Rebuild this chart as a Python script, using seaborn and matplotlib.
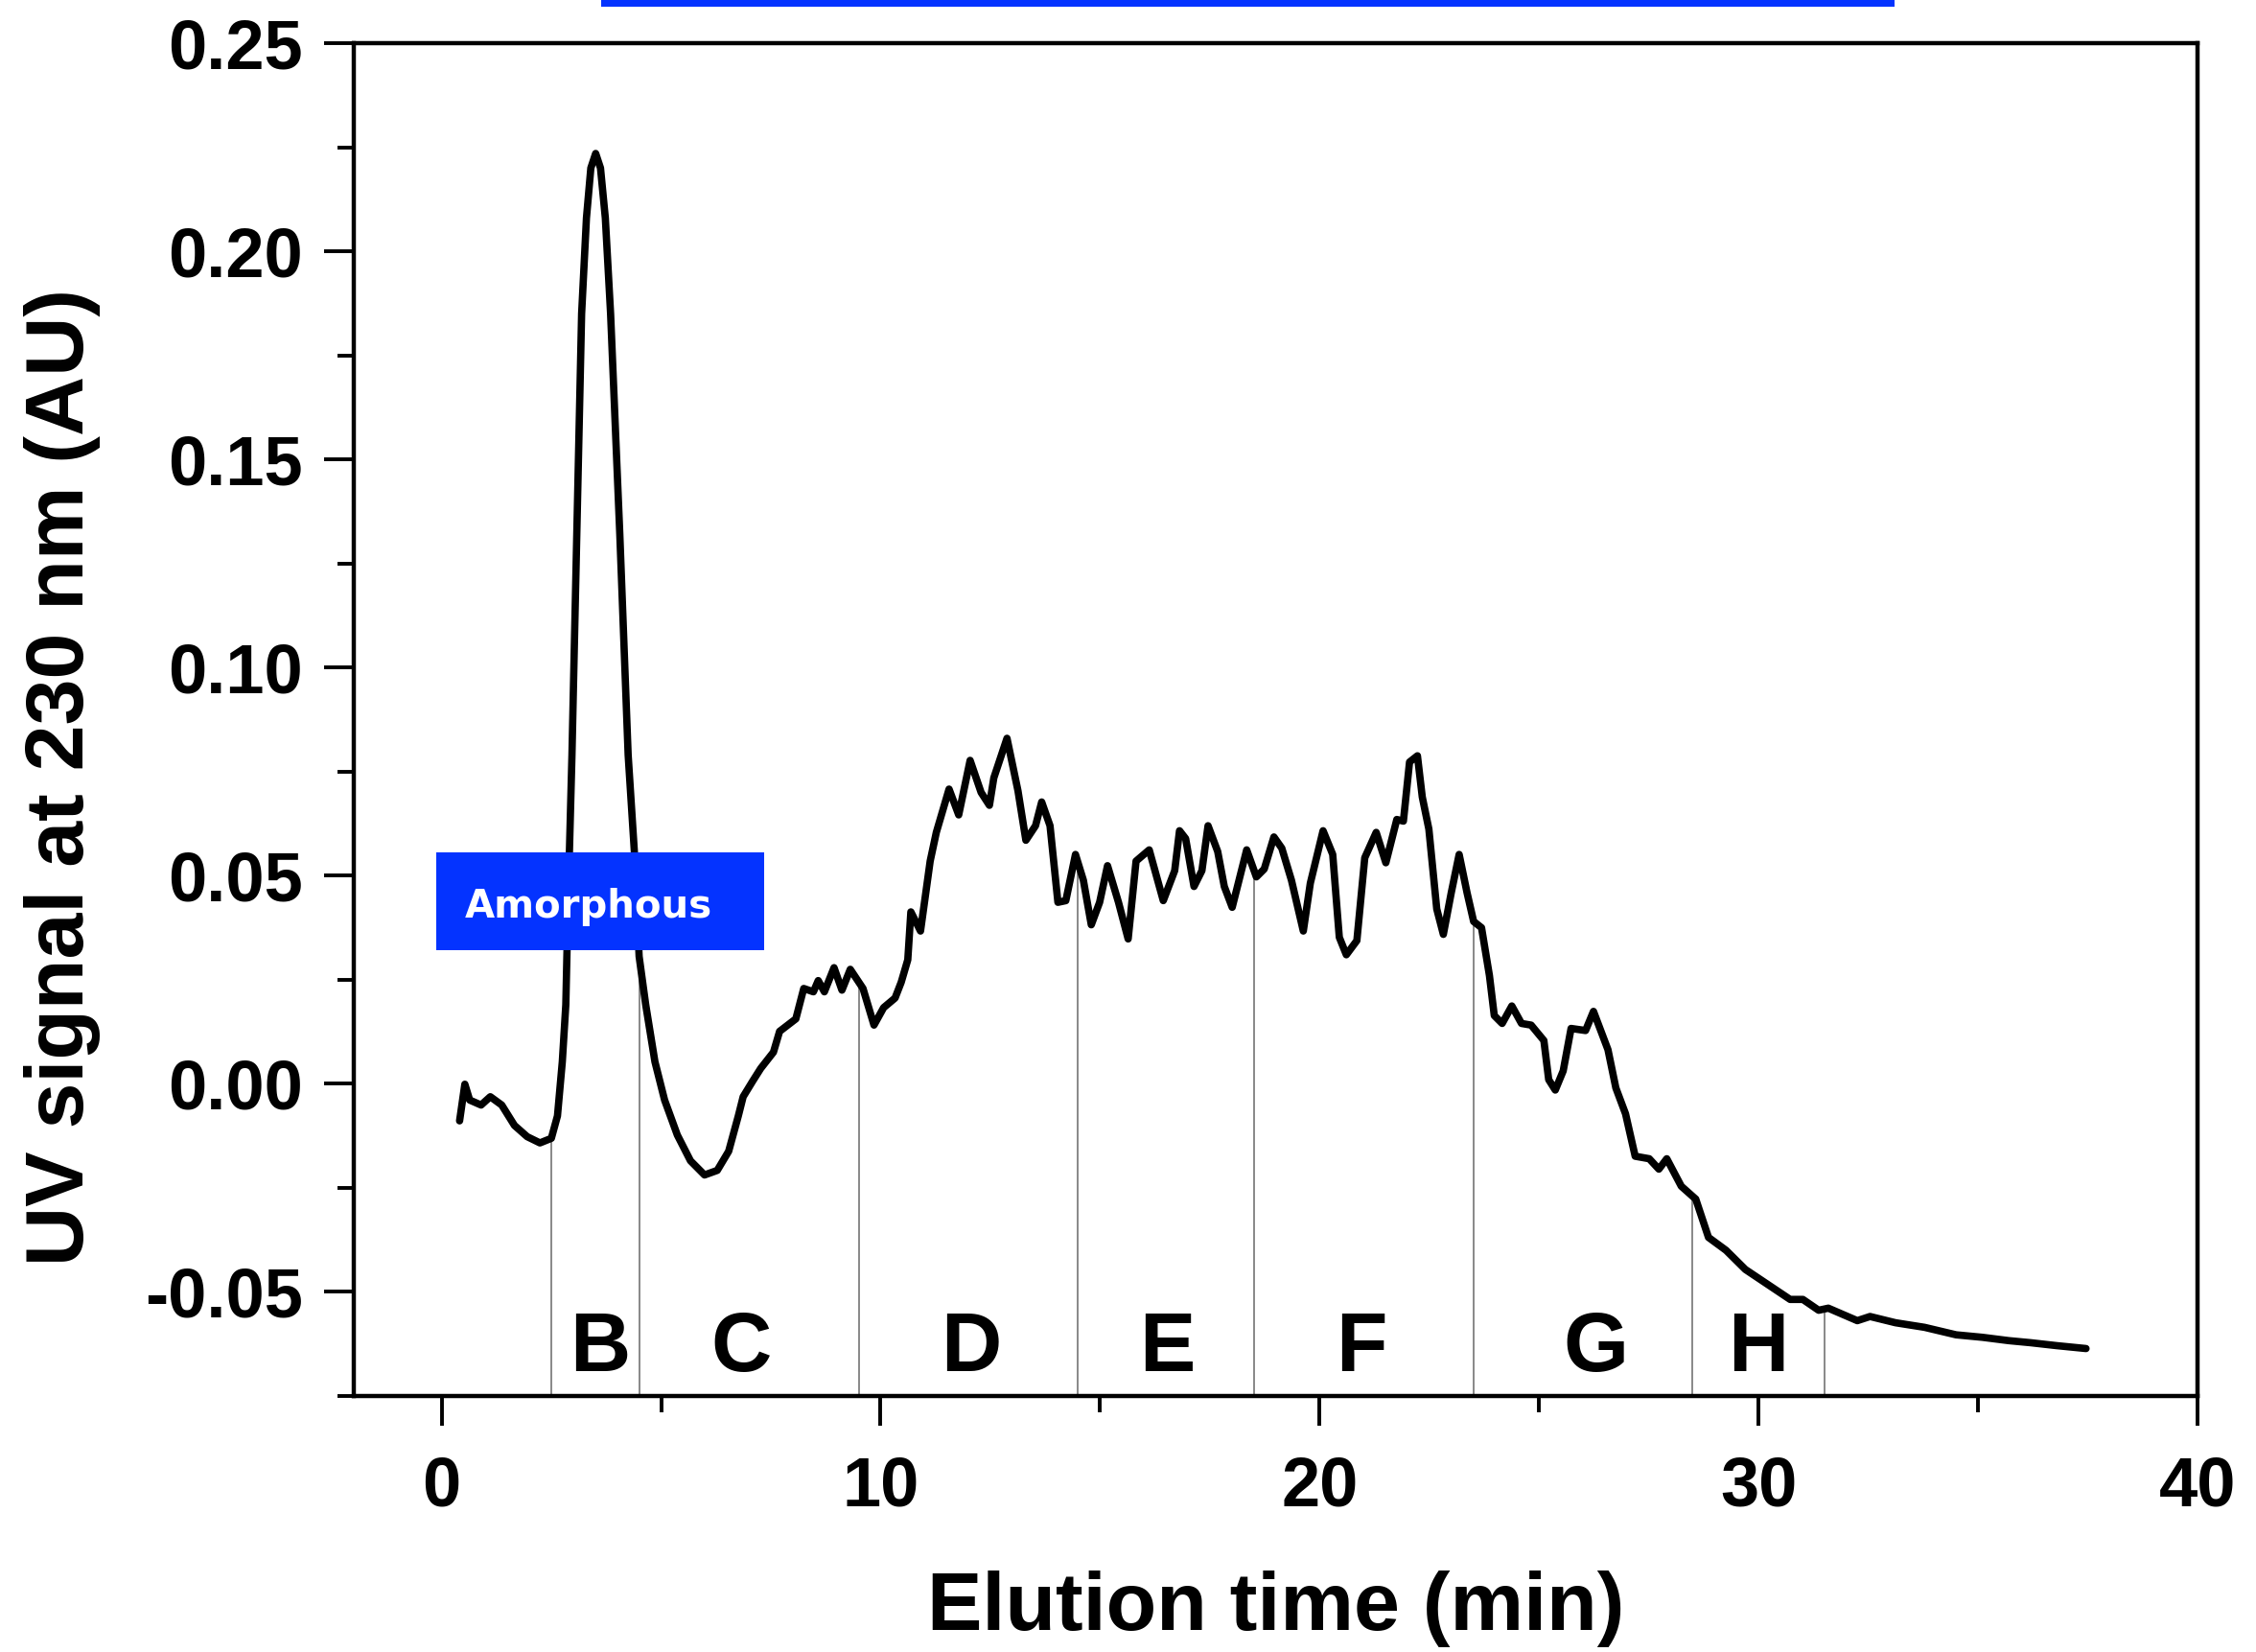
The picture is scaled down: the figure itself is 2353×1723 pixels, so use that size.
import numpy as np
import pandas as pd
import matplotlib
matplotlib.use("Agg")
import matplotlib.pyplot as plt
import seaborn as sns
from matplotlib.patches import Rectangle
from matplotlib.ticker import MultipleLocator

# ---------------- data ----------------
time_min = [0.41, 0.53, 0.64, 0.90, 1.11, 1.37, 1.66, 1.95, 2.24, 2.50, 2.64, 2.75,
            2.83, 2.88, 2.97, 3.08, 3.19, 3.30, 3.40, 3.51, 3.62, 3.73, 3.85, 4.06,
            4.25, 4.39, 4.50, 4.65, 4.86, 5.08, 5.37, 5.67, 5.99, 6.28, 6.54, 6.76,
            6.87, 7.09, 7.27, 7.56, 7.70, 8.07, 8.25, 8.47, 8.58, 8.72, 8.94, 9.12,
            9.31, 9.60, 9.85, 10.07, 10.33, 10.47, 10.62, 10.69, 10.91, 11.13, 11.27,
            11.56, 11.78, 12.04, 12.29, 12.48, 12.58, 12.88, 13.13, 13.31, 13.53, 13.67,
            13.86, 14.04, 14.22, 14.44, 14.62, 14.80, 14.99, 15.17, 15.42, 15.64, 15.82,
            16.12, 16.44, 16.70, 16.81, 16.95, 17.14, 17.32, 17.46, 17.68, 17.83, 18.01,
            18.34, 18.56, 18.74, 18.96, 19.14, 19.36, 19.63, 19.79, 20.08, 20.30, 20.45,
            20.61, 20.85, 21.03, 21.29, 21.51, 21.76, 21.91, 22.05, 22.23, 22.34, 22.49,
            22.67, 22.82, 23.00, 23.18, 23.36, 23.51, 23.69, 23.87, 23.98, 24.16, 24.38,
            24.60, 24.82, 25.11, 25.22, 25.37, 25.55, 25.73, 26.06, 26.24, 26.57, 26.75,
            26.97, 27.19, 27.51, 27.73, 27.91, 28.24, 28.57, 28.86, 29.26, 29.70, 30.21,
            30.72, 31.01, 31.37, 31.59, 32.25, 32.54, 33.12, 33.78, 34.50, 35.10, 35.70,
            36.20, 36.79, 37.46]
uv_signal = [-0.0089, -0.0001, -0.0039, -0.0051, -0.0031, -0.0051, -0.0100, -0.0127,
             -0.0142, -0.0131, -0.0077, 0.0053, 0.0190, 0.0430, 0.0790, 0.1320, 0.1850,
             0.2080, 0.2200, 0.2235, 0.2200, 0.2080, 0.1850, 0.1320, 0.0790, 0.0560,
             0.0306, 0.0190, 0.0053, -0.0039, -0.0123, -0.0185, -0.0219, -0.0208,
             -0.0162, -0.0077, -0.0031, 0.0007, 0.0037, 0.0076, 0.0126, 0.0156, 0.0229,
             0.0221, 0.0248, 0.0221, 0.0279, 0.0225, 0.0275, 0.0229, 0.0141, 0.0183,
             0.0206, 0.0244, 0.0298, 0.0413, 0.0367, 0.0535, 0.0604, 0.0708, 0.0646,
             0.0777, 0.0700, 0.0669, 0.0735, 0.0830, 0.0704, 0.0585, 0.0620, 0.0677,
             0.0620, 0.0436, 0.0440, 0.0551, 0.0489, 0.0382, 0.0436, 0.0524, 0.0436,
             0.0348, 0.0535, 0.0562, 0.0440, 0.0512, 0.0608, 0.0589, 0.0474, 0.0512,
             0.0620, 0.0558, 0.0474, 0.0424, 0.0562, 0.0497, 0.0516, 0.0593, 0.0566,
             0.0489, 0.0367, 0.0482, 0.0608, 0.0551, 0.0352, 0.0310, 0.0344, 0.0543,
             0.0604, 0.0531, 0.0635, 0.0631, 0.0773, 0.0788, 0.0689, 0.0612, 0.0420,
             0.0359, 0.0459, 0.0551, 0.0459, 0.0390, 0.0375, 0.0260, 0.0164, 0.0145,
             0.0187, 0.0145, 0.0141, 0.0104, 0.0010, -0.0015, 0.0031, 0.0133, 0.0128,
             0.0174, 0.0082, -0.0010, -0.0072, -0.0174, -0.0180, -0.0205, -0.0180,
             -0.0246, -0.0277, -0.0369, -0.0400, -0.0446, -0.0482, -0.0518, -0.0518,
             -0.0544, -0.0539, -0.0569, -0.0559, -0.0574, -0.0585, -0.0603, -0.0609,
             -0.0617, -0.0622, -0.0629, -0.0636]

boundaries = [2.5, 4.5, 9.5, 14.5, 18.5, 23.5, 28.5, 31.5]
fraction_labels = ["B", "C", "D", "E", "F", "G", "H"]
fraction_label_x = [3.6, 6.82, 12.07, 16.52, 20.95, 26.3, 30.0]
xticks = [0, 10, 20, 30, 40]
yticks = [-0.05, 0.00, 0.05, 0.10, 0.15, 0.20, 0.25]
ytick_labels = ["-0.05", "0.00", "0.05", "0.10", "0.15", "0.20", "0.25"]
amorphous_text = "Amorphous"

df = pd.DataFrame({"time": time_min, "signal": uv_signal})

# ---------------- style ----------------
sns.set_style("ticks")
plt.rcParams["font.family"] = ["Liberation Sans", "DejaVu Sans"]
plt.rcParams["font.weight"] = "bold"
plt.rcParams["text.color"] = "black"
plt.rcParams["axes.labelcolor"] = "black"
plt.rcParams["xtick.color"] = "black"
plt.rcParams["ytick.color"] = "black"
plt.rcParams["axes.edgecolor"] = "black"

W, H = 2353, 1723
fig = plt.figure(figsize=(W / 100, H / 100), dpi=100)
ax = fig.add_axes([369 / W, 1 - 1456 / H, (2292 - 369) / W, (1456 - 45) / H])

sns.lineplot(data=df, x="time", y="signal", ax=ax, color="black", linewidth=5.5,
             sort=False, estimator=None)
ax.lines[0].set_solid_joinstyle("round")
ax.lines[0].set_solid_capstyle("round")

XMIN, XMAX = -2, 40
YMIN, YMAX = -0.075, 0.25
ax.set_xlim(XMIN, XMAX)
ax.set_ylim(YMIN, YMAX)

# boundary lines from the bottom up to the curve
tops = np.interp(boundaries, time_min, uv_signal)
ax.vlines(boundaries, YMIN, tops, colors="#888888", linewidth=1.4, zorder=1)

for lab, xl in zip(fraction_labels, fraction_label_x):
    ax.text(xl, -0.0689, lab, ha="center", va="baseline", fontsize=63,
            fontweight="bold", color="black")

# axes formatting
for s in ax.spines.values():
    s.set_linewidth(3.2)
    s.set_color("black")
ax.set_xticks(xticks)
ax.set_xticklabels([str(v) for v in xticks])
ax.set_yticks(yticks)
ax.set_yticklabels(ytick_labels)
ax.xaxis.set_minor_locator(MultipleLocator(5))
ax.yaxis.set_minor_locator(MultipleLocator(0.025))
ax.tick_params(which="major", direction="out", length=22, width=2.8,
               labelsize=52, pad=22, top=False, right=False, colors="black")
ax.tick_params(which="minor", direction="out", length=12, width=2.8,
               top=False, right=False, colors="black")
ax.tick_params(axis="y", which="major", pad=16)
for t in ax.get_xticklabels() + ax.get_yticklabels():
    t.set_fontweight("bold")
    t.set_color("black")

ax.set_xlabel("Elution time (min)", fontsize=62, fontweight="bold", color="black")
ax.xaxis.label.set_va("baseline")
ax.xaxis.set_label_coords(0.5, -(1700 - 1456) / 1411)
ax.set_ylabel("UV signal at 230 nm (AU)", fontsize=62, fontweight="bold", color="black")
ax.yaxis.label.set_va("center")
ax.yaxis.set_label_coords((65 - 369) / 1923, (1456 - 810) / 1411)

# blue bar at the top of the figure
fig.patches.append(Rectangle((627 / W, 1 - 7 / H), (1976 - 627) / W, 7 / H,
                             transform=fig.transFigure, facecolor="#0433FF",
                             edgecolor="none", zorder=5))
# Amorphous label box
fig.patches.append(Rectangle((455 / W, 1 - 991 / H), (797 - 455) / W, 102 / H,
                             transform=fig.transFigure, facecolor="#0433FF",
                             edgecolor="none", zorder=5))
fig.text(485 / W, 1 - 957 / H, amorphous_text, color="white", fontsize=29,
         fontweight="bold", family=["DejaVu Sans"],
         ha="left", va="baseline", zorder=6)

fig.savefig("out.png", dpi=100)
